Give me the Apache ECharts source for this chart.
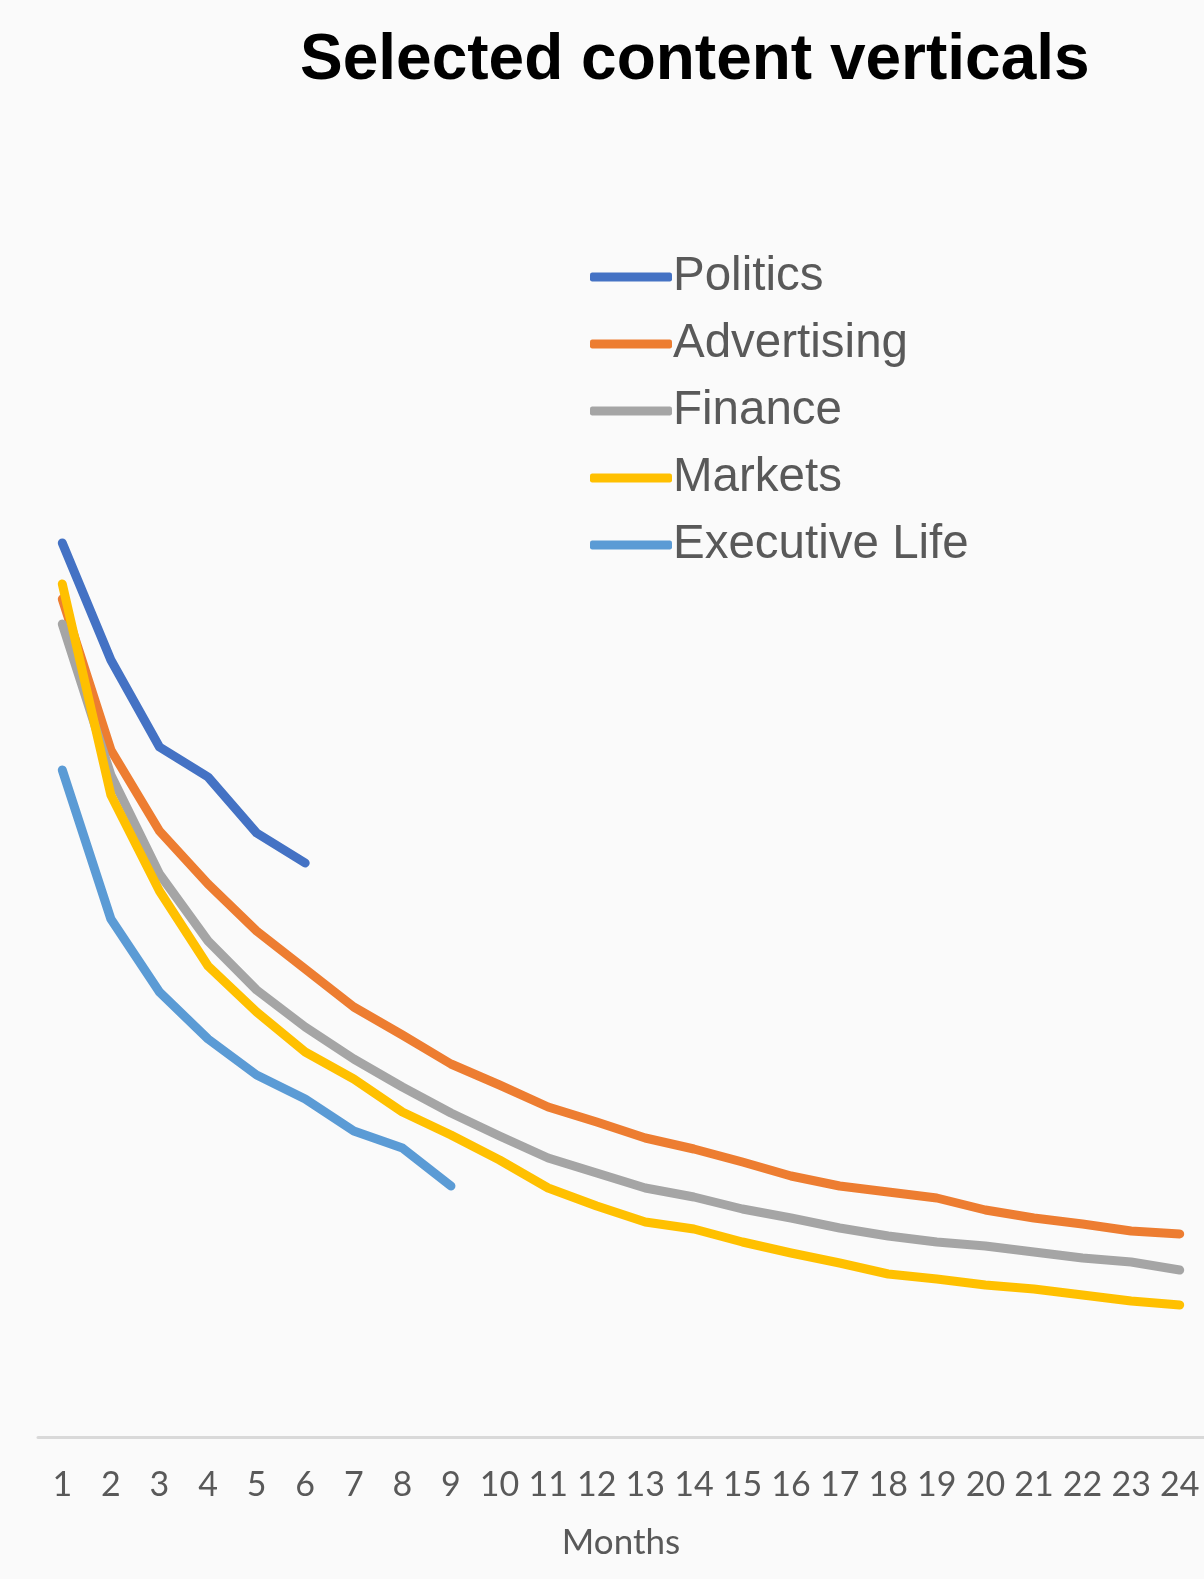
<!DOCTYPE html>
<html>
<head>
<meta charset="utf-8">
<script src="https://cdn.jsdelivr.net/npm/echarts@6/dist/echarts.min.js"></script>
<style>
html,body{margin:0;padding:0;background:#fafafa;}
#chart{width:1204px;height:1579px;}
</style>
</head>
<body>
<div id="chart"></div>
<script>
const months = ['1','2','3','4','5','6','7','8','9','10','11','12','13','14','15','16','17','18','19','20','21','22','23','24'];
const politics = [89.4, 77.7, 69.0, 66.0, 60.4, 57.4];
const advertising = [83.8, 68.7, 60.6, 55.3, 50.6, 46.8, 43.0, 40.2, 37.3, 35.2, 33.0, 31.5, 29.9, 28.8, 27.5, 26.1, 25.1, 24.5, 23.9, 22.7, 21.9, 21.3, 20.6, 20.3];
const finance = [81.3, 66.2, 56.3, 49.6, 44.7, 41.0, 37.8, 35.0, 32.4, 30.1, 27.9, 26.4, 24.9, 24.0, 22.8, 21.9, 20.9, 20.1, 19.5, 19.1, 18.5, 17.9, 17.5, 16.7];
const markets = [85.3, 64.2, 54.6, 47.1, 42.5, 38.5, 35.8, 32.5, 30.2, 27.7, 24.9, 23.1, 21.5, 20.8, 19.5, 18.4, 17.4, 16.3, 15.8, 15.2, 14.8, 14.2, 13.6, 13.2];
const executiveLife = [66.7, 51.8, 44.5, 39.8, 36.2, 33.8, 30.6, 28.9, 25.1];

const seriesNames = ['Politics', 'Advertising', 'Finance', 'Markets', 'Executive Life'];
const seriesData = [politics, advertising, finance, markets, executiveLife];
const colors = ['#4472C4', '#ED7D31', '#A5A5A5', '#FFC000', '#5B9BD5'];

const chart = echarts.init(document.getElementById('chart'), null, {renderer: 'canvas'});
chart.setOption({
  backgroundColor: '#fafafa',
  animation: false,
  color: colors,
  title: {
    text: 'Selected content verticals',
    left: 295,
    top: 24,
    textStyle: {
      fontFamily: 'Liberation Sans, Arial, sans-serif',
      fontWeight: 'bold',
      fontSize: 64,
      color: '#000000'
    }
  },
  legend: {
    orient: 'vertical',
    left: 585,
    top: 248,
    icon: 'roundRect',
    itemWidth: 82,
    itemHeight: 9,
    itemGap: 19,
    data: seriesNames,
    textStyle: {
      fontFamily: 'Liberation Sans, Arial, sans-serif',
      fontSize: 47.5,
      lineHeight: 47,
      color: '#595959',
      padding: [0, 0, 0, -4]
    }
  },
  grid: {
    left: 38,
    right: 0,
    top: 137,
    bottom: 142,
    containLabel: false
  },
  xAxis: {
    type: 'category',
    data: months,
    boundaryGap: true,
    name: 'Months',
    nameLocation: 'middle',
    nameGap: 88,
    nameTextStyle: {
      fontFamily: 'Lato, sans-serif',
      fontSize: 35,
      color: '#595959'
    },
    axisLine: {lineStyle: {color: '#d9d9d9', width: 3}},
    axisTick: {show: false},
    axisLabel: {
      interval: 0,
      margin: 31,
      fontFamily: 'Lato, sans-serif',
      fontSize: 34,
      color: '#595959'
    }
  },
  yAxis: {
    type: 'value',
    min: 0,
    max: 130,
    show: false,
    splitLine: {show: false}
  },
  series: seriesNames.map((name, i) => ({
    name: name,
    type: 'line',
    data: seriesData[i],
    symbol: 'none',
    smooth: false,
    lineStyle: {width: 9, color: colors[i], cap: 'round', join: 'round'},
    itemStyle: {color: colors[i]}
  }))
});
</script>
</body>
</html>
